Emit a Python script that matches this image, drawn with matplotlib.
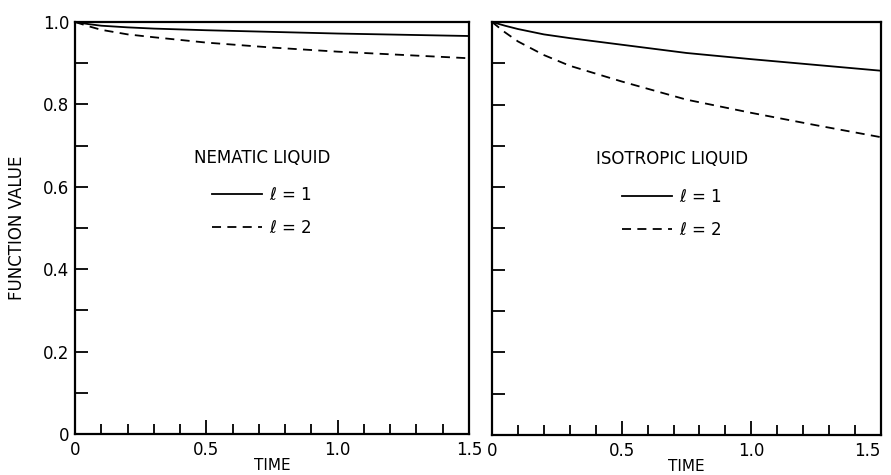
import numpy as np
from matplotlib import pyplot as plt
from matplotlib.ticker import MultipleLocator, FixedLocator

# values
t = [0.0, 0.05, 0.1, 0.2, 0.3, 0.5, 0.75, 1.0, 1.25, 1.5]
nematic_l1 = [1.0, 0.995, 0.991, 0.987, 0.984, 0.980, 0.976, 0.972, 0.969, 0.966]
nematic_l2 = [1.0, 0.990, 0.981, 0.970, 0.963, 0.950, 0.938, 0.928, 0.920, 0.912]
isotropic_l1 = [1.0, 0.991, 0.983, 0.970, 0.961, 0.945, 0.925, 0.910, 0.896, 0.882]
isotropic_l2 = [1.0, 0.975, 0.953, 0.920, 0.894, 0.856, 0.812, 0.780, 0.750, 0.721]

titles = ["NEMATIC LIQUID", "ISOTROPIC LIQUID"]
labels = [r"$\ell$ = 1", r"$\ell$ = 2"]
yticks = [0, 0.2, 0.4, 0.6, 0.8, 1.0]
yticklabels = ["0", "0.2", "0.4", "0.6", "0.8", "1.0"]
xticks = [0, 0.5, 1.0, 1.5]
xticklabels = ["0", "0.5", "1.0", "1.5"]

plt.rcParams['font.family'] = ['DejaVu Sans']
plt.rcParams['mathtext.fontset'] = 'dejavusans'

fig = plt.figure(figsize=(8.91, 4.75), dpi=100)
ax1 = fig.add_axes([75/891, 41/475, 394/891, 412/475])
ax2 = fig.add_axes([492/891, 40/475, 389/891, 413/475])

series = [(nematic_l1, nematic_l2), (isotropic_l1, isotropic_l2)]
legend_pos = [(0.475, 0.585), (0.463, 0.582)]

for i, ax in enumerate([ax1, ax2]):
    s1, s2 = series[i]
    h1, = ax.plot(t, s1, color="black", lw=1.3)
    h2, = ax.plot(t, s2, color="black", lw=1.3, dashes=(5, 3.5))
    ax.set_xlim(0, 1.5)
    ax.set_ylim(0, 1.0)
    for sp in ax.spines.values():
        sp.set_linewidth(1.6)

    ax.xaxis.set_major_locator(FixedLocator(xticks))
    ax.xaxis.set_minor_locator(MultipleLocator(0.1))
    ax.set_xticklabels(xticklabels)
    ax.yaxis.set_major_locator(FixedLocator(yticks))
    ax.yaxis.set_minor_locator(MultipleLocator(0.1))
    ax.tick_params(axis="x", which="major", direction="in", length=10, width=1.3,
                   labelsize=12, pad=5)
    ax.tick_params(axis="x", which="minor", direction="in", length=7, width=1.3)
    ax.tick_params(axis="y", which="both", direction="in", length=9, width=1.3,
                   labelsize=12, pad=4)
    if i == 0:
        ax.set_yticklabels(yticklabels)
        ax.set_ylabel("FUNCTION VALUE", fontsize=12, labelpad=12)
    else:
        ax.set_yticklabels([])
        ax.get_xticklabels()[-1].set_horizontalalignment("right")
    ax.set_xlabel("TIME", fontsize=11)
    ax.xaxis.set_label_coords(0.5, -0.058)

    leg = ax.legend([h1, h2], labels, title=titles[i], loc="center",
                    bbox_to_anchor=legend_pos[i], frameon=False, fontsize=12,
                    title_fontsize=12, handlelength=3.0, handletextpad=0.4,
                    labelspacing=0.9)
    leg._legend_box.sep = 14

fig.savefig("out.png", dpi=100)
